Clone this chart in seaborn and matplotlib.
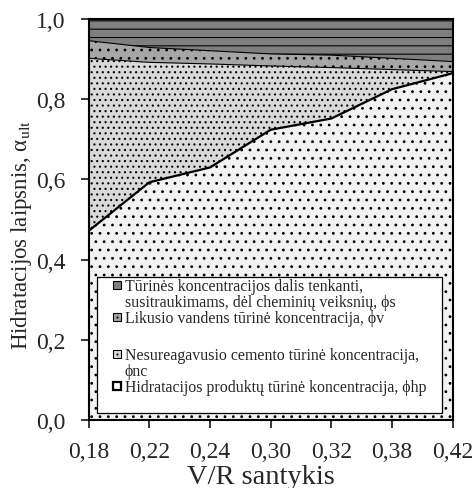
import numpy as np
import matplotlib
matplotlib.use("Agg")
import matplotlib.pyplot as plt
from matplotlib.lines import Line2D
from matplotlib.legend_handler import HandlerTuple
import seaborn as sns

# V/R santykis (kategorijos) ir sluoksniu virsutines ribos
vr = ["0,18", "0,22", "0,24", "0,30", "0,32", "0,38", "0,42"]
hp_top = [0.472, 0.593, 0.630, 0.724, 0.752, 0.825, 0.865]   # hidratacijos produktai
nc_top = [0.902, 0.892, 0.888, 0.883, 0.879, 0.874, 0.869]   # nesureagaves cementas
v_top = [0.946, 0.929, 0.921, 0.913, 0.910, 0.902, 0.894]    # likes vanduo
s_top = [1.0, 1.0, 1.0, 1.0, 1.0, 1.0, 1.0]                  # susitraukimai

y_ticks = [0.0, 0.2, 0.4, 0.6, 0.8, 1.0]
y_ticklabels = ["0,0", "0,2", "0,4", "0,6", "0,8", "1,0"]

# legendos eilutes: (zymuo, tekstas, sriftas); None - eilute be zymens
legend_rows = [
    ("s", "Tūrinės koncentracijos dalis tenkanti,", 11.4),
    (None, "susitraukimams, dėl cheminių veiksnių, ϕs", 11.4),
    ("v", "Likusio vandens tūrinė koncentracija, ϕv", 11.4),
    (None, " ", 17.5),
    ("nc", "Nesureagavusio cemento tūrinė koncentracija,", 11.4),
    (None, "ϕnc", 11.4),
    ("hp", "Hidratacijos produktų tūrinė koncentracija, ϕhp", 11.4),
    (None, " ", 12.5),
]

sns.set_style("ticks")
plt.rcParams["font.family"] = ["Liberation Serif", "DejaVu Serif"]
plt.rcParams["mathtext.fontset"] = "stix"
plt.rcParams["hatch.linewidth"] = 0.8

fig = plt.figure(figsize=(4.75, 4.89), dpi=100)
ax = fig.add_axes([0.187, 0.139, 0.766, 0.820])

x = np.arange(len(vr))
zero = np.zeros(len(vr))

layers = [
    (zero, hp_top, "#f2f2f2", ".."),
    (hp_top, nc_top, "#d9d9d9", "..."),
    (nc_top, v_top, "#a6a6a6", ".."),
    (v_top, s_top, "#7f7f7f", "--"),
]
for lo, hi, col, hatch in layers:
    ax.fill_between(x, lo, hi, facecolor=col, edgecolor="black", hatch=hatch, linewidth=0)

sns.lineplot(x=x, y=hp_top, ax=ax, color="black", linewidth=1.6)
sns.lineplot(x=x, y=nc_top, ax=ax, color="black", linewidth=0.8)
sns.lineplot(x=x, y=v_top, ax=ax, color="black", linewidth=0.8)

ax.set_xlim(0, len(vr) - 1)
ax.set_ylim(0, 1.0)
ax.set_xticks(x)
ax.set_xticklabels(vr)
ax.set_yticks(y_ticks)
ax.set_yticklabels(y_ticklabels)
ax.tick_params(axis="both", labelsize=17, length=6, width=1.3, direction="out")
ax.tick_params(axis="x", pad=9)
ax.tick_params(axis="y", pad=11)
for sp in ax.spines.values():
    sp.set_linewidth(1.5)
    sp.set_color("black")

ax.set_xlabel("V/R santykis", fontsize=20.5)
ax.set_ylabel(r"Hidratacijos laipsnis, α$_\mathrm{ult}$", fontsize=16.5)
ax.xaxis.set_label_coords(0.473, -0.11)
ax.yaxis.set_label_coords(-0.15, 0.464)

handle_color = {"s": "#7f7f7f", "v": "#a6a6a6", "nc": "#d9d9d9", "hp": "white"}
handles = []
labels = []
for key, text, fs in legend_rows:
    if key is None:
        handles.append(Line2D([], [], linestyle="none"))
    else:
        box = Line2D([], [], linestyle="none", marker="s", markersize=5.6,
                     markerfacecolor=handle_color[key], markeredgecolor="black",
                     markeredgewidth=1.6 if key == "hp" else 0.8)
        if key in ("v", "nc"):
            dot = Line2D([], [], linestyle="none", marker="s", markersize=1.4,
                         markerfacecolor="black", markeredgecolor="black", markeredgewidth=0)
            handles.append((box, dot))
        else:
            handles.append(box)
    labels.append(text)

leg = ax.legend(handles, labels, loc="upper left", bbox_to_anchor=(0.022, 0.02, 0.948, 0.337),
                mode="expand", fontsize=11.4, frameon=True, fancybox=False,
                handlelength=2.4, handletextpad=-0.75,
                handler_map={tuple: HandlerTuple(ndivide=1)},
                labelspacing=0.0, borderpad=0.1, borderaxespad=0)
for t, (_, _, fs) in zip(leg.get_texts(), legend_rows):
    t.set_fontsize(fs)
leg.get_frame().set_edgecolor("black")
leg.get_frame().set_linewidth(0.9)
leg.get_frame().set_alpha(1)

fig.savefig("out.png", dpi=100)
